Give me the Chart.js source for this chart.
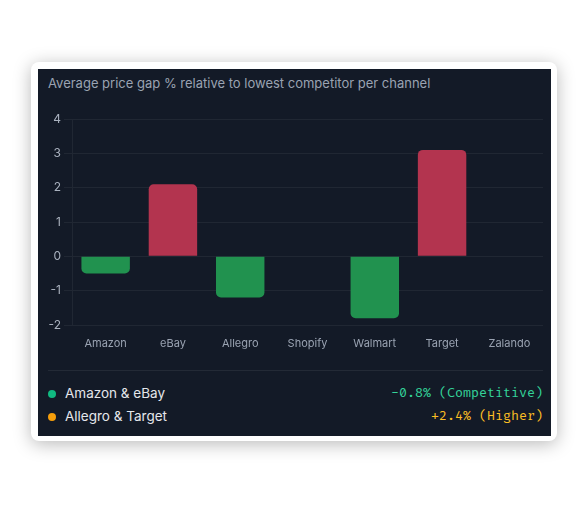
<!DOCTYPE html>
<html>
<head>
<meta charset="utf-8">
<script src="https://cdn.jsdelivr.net/npm/chart.js@4"></script>
<style>
  html,body{margin:0;padding:0;background:#ffffff;width:585px;height:505px;overflow:hidden;}
  #card{position:absolute;left:31px;top:62px;width:526px;height:379px;background:#fff;border-radius:8px;box-shadow:0 3px 18px rgba(0,0,0,0.28);}
  #panel{position:absolute;left:38px;top:69px;width:513px;height:367px;background:#131a27;}
  #title{position:absolute;left:48px;top:75px;font-family:Inter,"Noto Sans",sans-serif;font-size:13px;color:#9aa3b2;white-space:nowrap;}
  #wrap{position:absolute;left:38px;top:101px;width:513px;height:260px;}
  #sep{position:absolute;left:48px;top:370px;width:495px;height:1px;background:rgba(255,255,255,0.07);}
  .row{position:absolute;left:48px;width:495px;height:20px;font-family:Inter,"Noto Sans",sans-serif;font-size:13.5px;color:#e5e7eb;}
  .dot{position:absolute;left:0;top:6px;width:8px;height:8px;border-radius:50%;}
  .lab{position:absolute;left:17px;top:1px;white-space:nowrap;}
  .val{position:absolute;right:0;top:1px;white-space:nowrap;font-family:"Fira Code","DejaVu Sans Mono","Liberation Mono",monospace;font-size:13px;}
</style>
</head>
<body>
<div id="card"></div>
<div id="panel"></div>
<div id="title">Average price gap % relative to lowest competitor per channel</div>
<div id="wrap"><canvas id="c" width="513" height="260"></canvas></div>
<div id="sep"></div>
<div class="row" style="top:384px"><span class="dot" style="background:#10b981"></span><span class="lab">Amazon &amp; eBay</span><span class="val" style="color:#34d399">-0.8% (Competitive)</span></div>
<div class="row" style="top:407px"><span class="dot" style="background:#f59e0b"></span><span class="lab">Allegro &amp; Target</span><span class="val" style="color:#fbbf24">+2.4% (Higher)</span></div>
<script>
const channels = ["Amazon","eBay","Allegro","Shopify","Walmart","Target","Zalando"];
const priceGap = [-0.5, 2.1, -1.2, 0, -1.8, 3.1, 0];
const yTicks = [-2, -1, 0, 1, 2, 3, 4];

const green = '#21924f';
const red = '#b3344f';

new Chart(document.getElementById('c'), {
  type: 'bar',
  data: {
    labels: channels,
    datasets: [{
      data: priceGap,
      backgroundColor: priceGap.map(v => v > 0 ? red : green),
      borderRadius: 5,
      borderSkipped: 'start'
    }]
  },
  options: {
    responsive: false,
    animation: false,
    layout: { padding: { left: 0, right: 8, top: 18, bottom: 6 } },
    plugins: { legend: { display: false }, tooltip: { enabled: false } },
    scales: {
      x: {
        grid: { display: false },
        border: { display: false },
        ticks: { color: '#9aa3b2', font: { family: 'Inter', size: 11 }, padding: 4 },
        afterFit: s => { s.height = 30; }
      },
      y: {
        min: yTicks[0],
        max: yTicks[yTicks.length - 1],
        afterBuildTicks: s => { s.ticks = yTicks.map(v => ({ value: v })); },
        grid: { color: 'rgba(255,255,255,0.06)' },
        border: { color: 'rgba(255,255,255,0.06)' },
        ticks: { color: '#aab2bf', font: { family: 'Inter', size: 12 } },
        afterFit: s => { s.width = 34; }
      }
    }
  }
});
</script>
</body>
</html>
